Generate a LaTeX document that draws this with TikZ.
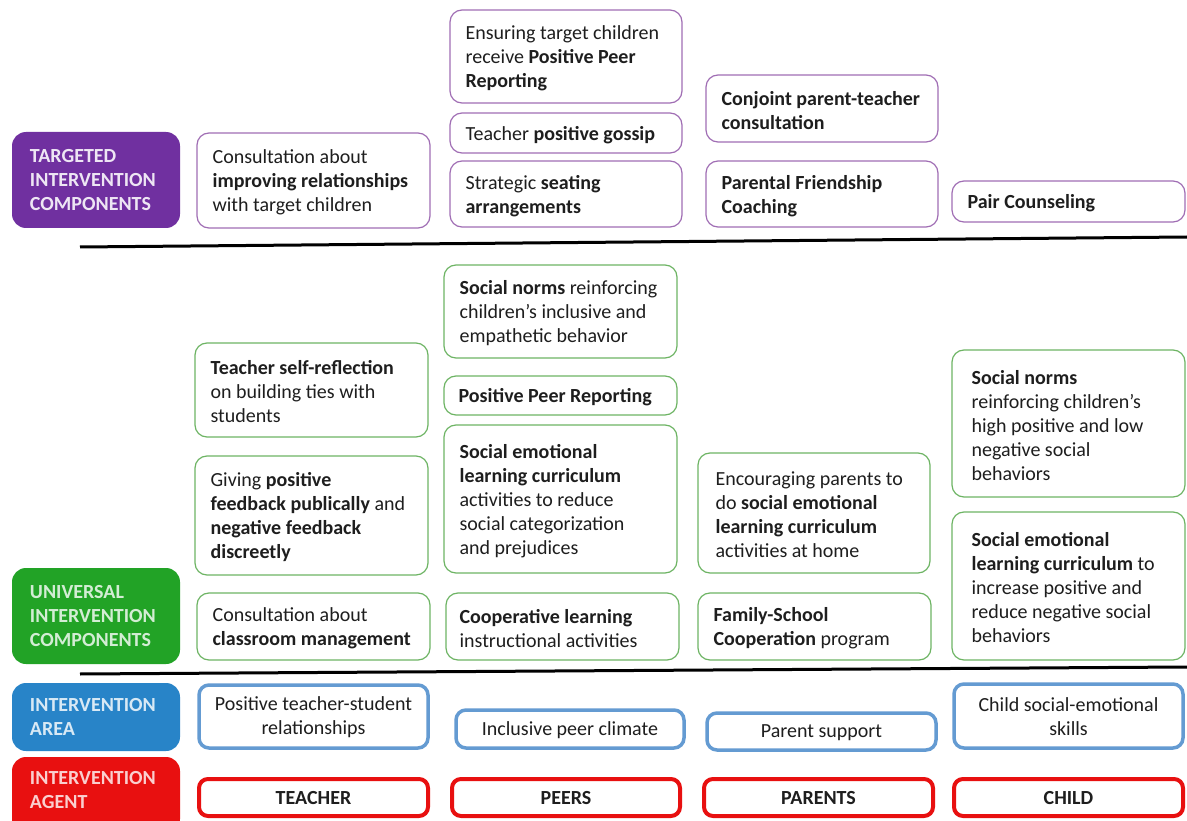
\documentclass[tikz,border=0pt]{standalone}
\usepackage{fontspec}
\setmainfont{Carlito}
\definecolor{purp}{RGB}{112,48,160}
\definecolor{purpline}{RGB}{160,110,180}
\definecolor{grn}{RGB}{34,163,38}
\definecolor{grnline}{RGB}{110,180,100}
\definecolor{blu}{RGB}{40,132,200}
\definecolor{bluline}{RGB}{100,155,210}
\definecolor{rd}{RGB}{232,16,16}
\definecolor{txtc}{RGB}{30,30,30}
\tikzset{
  txt/.style={font=\fontsize{20}{24}\selectfont, align=left, inner sep=0pt, text=txtc},
  ctxt/.style={font=\fontsize{20}{24}\selectfont, align=center, inner sep=0pt, text=txtc},
  lbltxt/.style={font=\fontsize{20}{24}\selectfont\bfseries, align=left, inner sep=0pt},
  tbox/.style={draw=purpline, line width=1.2pt, rounded corners=12pt, fill=white, inner sep=0pt},
  ubox/.style={draw=grnline, line width=1.2pt, rounded corners=12pt, fill=white, inner sep=0pt},
  abox/.style={draw=bluline, line width=3.5pt, rounded corners=10pt, fill=white, inner sep=0pt},
  gbox/.style={draw=rd, line width=4pt, rounded corners=9pt, fill=white, inner sep=0pt},
  lbl/.style={rounded corners=14pt, inner sep=0pt},
  sep/.style={line width=3pt, black}
}
\newcommand\bx[8]{%
  \pgfmathsetmacro\bw{#4-#2}\pgfmathsetmacro\bh{#5-#3}%
  \node[#6, minimum width=\bw pt, minimum height=\bh pt] (#1) at ({(#2+#4)/2},{(#3+#5)/2}) {};
  \node[txt, anchor=west] (#1t) at ([xshift=#7pt,yshift=-2pt]#1.west) {#8};}
\newcommand\cbx[7]{%
  \pgfmathsetmacro\bw{#4-#2}\pgfmathsetmacro\bh{#5-#3}%
  \node[#6, minimum width=\bw pt, minimum height=\bh pt] (#1) at ({(#2+#4)/2},{(#3+#5)/2}) {};
  \node[ctxt] (#1t) at ([yshift=-1pt]#1.center) {#7};}
\begin{document}
\begin{tikzpicture}[x=1pt,y=-1pt]
\useasboundingbox[fill=white] (0,0) rectangle (1187,821);
% separator lines
\coordinate (s1a) at (80,247); \coordinate (s1b) at (1187,237);
\coordinate (s2a) at (80,674); \coordinate (s2b) at (1187,667);
\draw[sep] (s1a) -- (s1b);
\draw[sep] (s2a) -- (s2b);
% left labels
\node[lbl, fill=purp, minimum width=168pt, minimum height=96pt] (L1) at (96,180) {};
\node[lbltxt, text=purp!12, anchor=west] (L1t) at ([xshift=18pt]L1.west) {TARGETED\\INTERVENTION\\COMPONENTS};
\node[lbl, fill=grn, minimum width=168pt, minimum height=96pt] (L2) at (96,616) {};
\node[lbltxt, text=grn!20, anchor=west] (L2t) at ([xshift=18pt]L2.west) {UNIVERSAL\\INTERVENTION\\COMPONENTS};
\node[lbl, fill=blu, minimum width=168pt, minimum height=68pt] (L3) at (96,717) {};
\node[lbltxt, text=blu!18, anchor=west] (L3t) at ([xshift=18pt]L3.west) {INTERVENTION\\AREA};
\node[lbl, fill=rd, minimum width=168pt, minimum height=76pt] (L4) at (96,795) {};
\node[lbltxt, text=rd!20, anchor=west] (L4t) at ([xshift=18pt,yshift=5pt]L4.west) {INTERVENTION\\AGENT};
% targeted
\bx{tA}{197}{133}{430}{228}{tbox}{16}{Consultation about\\\textbf{improving relationships}\\with target children}
\bx{tB}{450}{10}{682}{103}{tbox}{16}{Ensuring target children\\receive \textbf{Positive Peer}\\\textbf{Reporting}}
\bx{tC}{450}{113}{682}{153}{tbox}{16}{Teacher \textbf{positive gossip}}
\bx{tD}{450}{161}{682}{227}{tbox}{16}{Strategic \textbf{seating}\\\textbf{arrangements}}
\bx{tE}{706}{75}{938}{142}{tbox}{16}{\textbf{Conjoint parent-teacher}\\\textbf{consultation}}
\bx{tF}{706}{161}{938}{227}{tbox}{16}{\textbf{Parental Friendship}\\\textbf{Coaching}}
\bx{tG}{952}{181}{1185}{222}{tbox}{16}{\textbf{Pair Counseling}}
% universal
\bx{uA}{195}{343}{428}{437}{ubox}{16}{\textbf{Teacher self-reflection}\\on building ties with\\students}
\bx{uB}{195}{456}{428}{575}{ubox}{16}{Giving \textbf{positive}\\\textbf{feedback publically} and\\\textbf{negative feedback}\\\textbf{discreetly}}
\bx{uC}{197}{593}{430}{660}{ubox}{16}{Consultation about\\\textbf{classroom management}}
\bx{uD}{444}{265}{677}{358}{ubox}{16}{\textbf{Social norms} reinforcing\\children’s inclusive and\\empathetic behavior}
\bx{uE}{444}{376}{677}{415}{ubox}{15}{\textbf{Positive Peer Reporting}}
\bx{uF}{444}{425}{677}{573}{ubox}{16}{\textbf{Social emotional}\\\textbf{learning curriculum}\\activities to reduce\\social categorization\\and prejudices}
\bx{uG}{446}{593}{679}{660}{ubox}{14}{\textbf{Cooperative learning}\\instructional activities}
\bx{uH}{698}{453}{930}{573}{ubox}{18}{Encouraging parents to\\do \textbf{social emotional}\\\textbf{learning curriculum}\\activities at home}
\bx{uI}{698}{593}{931}{660}{ubox}{16}{\textbf{Family-School}\\\textbf{Cooperation} program}
\bx{uJ}{952}{350}{1185}{497}{ubox}{20}{\textbf{Social norms}\\reinforcing children’s\\high positive and low\\negative social\\behaviors}
\bx{uK}{952}{512}{1185}{660}{ubox}{20}{\textbf{Social emotional}\\\textbf{learning curriculum} to\\increase positive and\\reduce negative social\\behaviors}
% areas
\cbx{aA}{199}{685}{428}{748}{abox}{Positive teacher-student\\relationships}
\cbx{aB}{456}{710}{684}{748}{abox}{Inclusive peer climate}
\cbx{aC}{707}{713}{936}{750}{abox}{Parent support}
\cbx{aD}{954}{684}{1183}{748}{abox}{Child social-emotional\\skills}
% agents
\cbx{gA}{199}{779}{428}{816}{gbox}{\textbf{TEACHER}}
\cbx{gB}{452}{779}{680}{816}{gbox}{\textbf{PEERS}}
\cbx{gC}{704}{779}{933}{816}{gbox}{\textbf{PARENTS}}
\cbx{gD}{954}{779}{1183}{816}{gbox}{\textbf{CHILD}}
\end{tikzpicture}
\end{document}
